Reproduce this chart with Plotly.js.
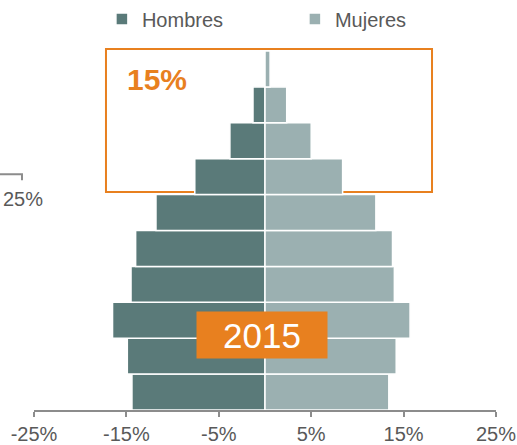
<!DOCTYPE html>
<html>
<head>
<meta charset="utf-8">
<script src="https://cdn.plot.ly/plotly-3.0.1.min.js"></script>
<style>
  html, body { margin: 0; padding: 0; background: #fff; }
  #myDiv { width: 517px; height: 445px; }
</style>
</head>
<body>
<div id="myDiv"></div>
<script>
// age groups, youngest at the bottom
var grupos = ['0-9', '10-19', '20-29', '30-39', '40-49', '50-59', '60-69', '70-79', '80-89', '90+'];
var hombres = [14.4, 14.9, 16.5, 14.5, 14.0, 11.8, 7.6, 3.8, 1.3, 0];
var mujeres = [13.4, 14.2, 15.7, 14.0, 13.8, 12.0, 8.4, 5.0, 2.35, 0.55];

var tickVals = [-25, -15, -5, 5, 15, 25];
var tickText = ['-25%', '-15%', '-5%', '5%', '15%', '25%'];

var fontFam = 'Liberation Sans, Arial, sans-serif';
var gris = '#595959';
var naranja = '#E8801F';

var trHombres = {
    y: grupos,
    x: hombres.map(function (v) { return -v; }),
    name: 'Hombres',
    type: 'bar',
    orientation: 'h',
    marker: { color: '#5A7A79', line: { color: '#ffffff', width: 1.5 } },
    hoverinfo: 'skip'
};

var trMujeres = {
    y: grupos,
    x: mujeres,
    name: 'Mujeres',
    type: 'bar',
    orientation: 'h',
    marker: { color: '#9BB0B1', line: { color: '#ffffff', width: 1.5 } },
    hoverinfo: 'skip'
};

var layout = {
    width: 517,
    height: 445,
    margin: { l: 34, r: 21, t: 51, b: 35, autoexpand: false },
    paper_bgcolor: '#ffffff',
    plot_bgcolor: '#ffffff',
    barmode: 'relative',
    bargap: 0,
    font: { family: fontFam, color: gris, size: 20 },
    showlegend: true,
    legend: {
        orientation: 'h',
        x: 0.147,
        xanchor: 'left',
        y: 1.089,
        yanchor: 'middle',
        entrywidth: 148,
        font: { family: fontFam, size: 20, color: gris },
        bgcolor: 'rgba(0,0,0,0)'
    },
    xaxis: {
        range: [-25, 25],
        tickvals: tickVals,
        ticktext: tickText,
        ticks: 'outside',
        ticklen: 5,
        tickwidth: 2,
        tickcolor: '#8C8C8C',
        showline: true,
        linecolor: '#8C8C8C',
        linewidth: 2,
        showgrid: false,
        zeroline: false,
        fixedrange: true,
        tickfont: { family: fontFam, size: 20, color: gris }
    },
    yaxis: {
        type: 'category',
        categoryorder: 'array',
        categoryarray: grupos,
        range: [-0.5, 9.5],
        showticklabels: false,
        showgrid: false,
        zeroline: false,
        showline: false,
        ticks: '',
        fixedrange: true
    },
    shapes: [
        // highlight box around the older groups
        {
            type: 'rect', xref: 'paper', yref: 'paper', layer: 'below',
            x0: 0.1558, x1: 0.8615, y0: 0.607, y1: 1.0056,
            line: { color: naranja, width: 2 }, fillcolor: 'rgba(0,0,0,0)'
        },
        // clipped axis of the neighbouring chart
        {
            type: 'path', xref: 'paper', yref: 'paper',
            path: 'M -0.0736 0.657 L -0.026 0.657 L -0.026 0.640',
            line: { color: '#8C8C8C', width: 2 }
        }
    ],
    annotations: [
        {
            xref: 'paper', yref: 'paper', x: 0.267, y: 0.922,
            xanchor: 'center', yanchor: 'middle',
            text: '<b>15%</b>', showarrow: false,
            font: { family: fontFam, size: 30, color: naranja }
        },
        {
            xref: 'paper', yref: 'paper', x: 0.4935, y: 0.209,
            xanchor: 'center', yanchor: 'middle',
            text: '2015', showarrow: false,
            width: 130, height: 46, bgcolor: naranja, borderpad: 0,
            font: { family: fontFam, size: 35, color: '#ffffff' }
        },
        {
            xref: 'paper', yref: 'paper', x: -0.0714, y: 0.5877,
            xanchor: 'left', yanchor: 'middle',
            text: '25%', showarrow: false,
            font: { family: fontFam, size: 20, color: gris }
        }
    ]
};

var config = { displayModeBar: false, staticPlot: true };

Plotly.newPlot('myDiv', [trHombres, trMujeres], layout, config);
</script>
</body>
</html>
